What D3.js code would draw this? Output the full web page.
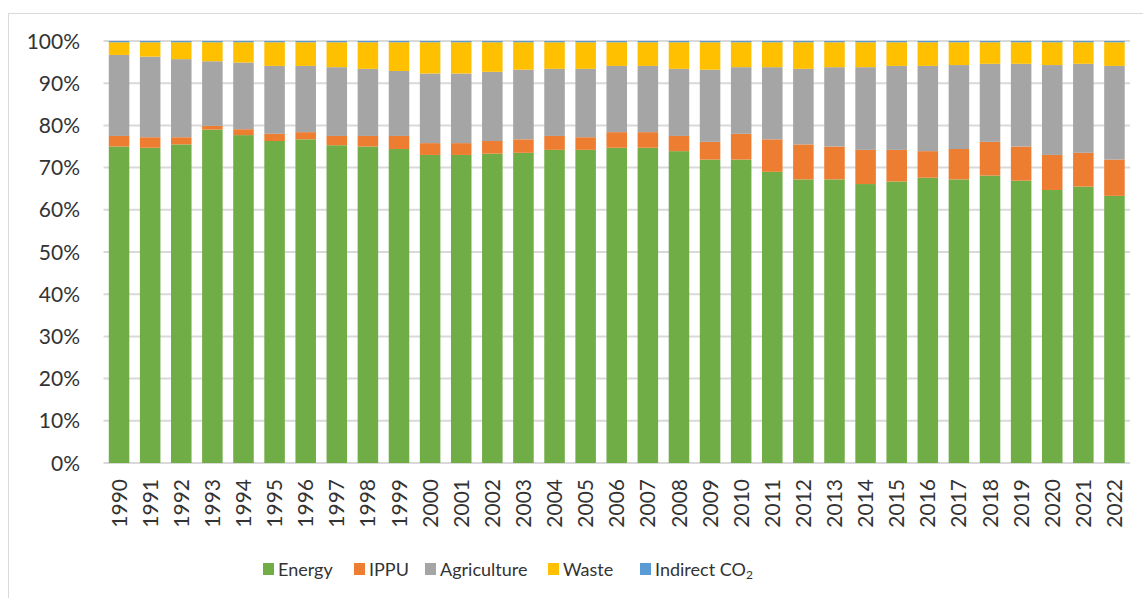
<!DOCTYPE html>
<html>
<head>
<meta charset="utf-8">
<script src="https://cdn.jsdelivr.net/npm/d3@7"></script>
<style>
  body { margin: 0; background: #fff; }
  text { font-family: Lato, "Open Sans", sans-serif; fill: #333; }
</style>
</head>
<body>
<svg id="chart" width="1143" height="598"></svg>
<script>
// GHG share by sector, % of total
const years = d3.range(1990, 2023).map(String);
const energy = [75.0, 74.7, 75.5, 79.0, 77.7, 76.3, 76.7, 75.3, 75.0, 74.4, 73.0,
  73.0, 73.3, 73.5, 74.2, 74.2, 74.7, 74.7, 73.9, 71.9, 71.9, 69.0,
  67.2, 67.2, 66.1, 66.7, 67.6, 67.2, 68.1, 66.9, 64.7, 65.5, 63.3];
const ippu = [2.5, 2.5, 1.7, 0.9, 1.4, 1.7, 1.7, 2.2, 2.5, 3.1, 2.8,
  2.8, 3.0, 3.2, 3.3, 3.0, 3.7, 3.7, 3.6, 4.2, 6.1, 7.7,
  8.3, 7.8, 8.1, 7.5, 6.3, 7.2, 8.0, 8.1, 8.3, 8.0, 8.6];
const agriculture = [19.2, 19.1, 18.5, 15.3, 15.8, 16.1, 15.7, 16.3, 15.9, 15.4, 16.5,
  16.5, 16.4, 16.5, 15.9, 16.2, 15.7, 15.7, 15.9, 17.1, 15.8, 17.1,
  17.9, 18.8, 19.6, 19.9, 20.2, 19.9, 18.5, 19.6, 21.3, 21.1, 22.2];
const waste = [3.0, 3.4, 4.0, 4.5, 4.8, 5.6, 5.6, 5.9, 6.3, 6.8, 7.4,
  7.4, 7.0, 6.5, 6.3, 6.3, 5.6, 5.6, 6.3, 6.5, 5.9, 5.9,
  6.3, 5.9, 5.9, 5.6, 5.6, 5.4, 5.1, 5.1, 5.4, 5.1, 5.6];
const indirect = years.map(() => 0.3);
const yTicks = d3.range(0, 1.01, 0.1);

const series = [
  { key: "Energy", values: energy, color: "#70AD47" },
  { key: "IPPU", values: ippu, color: "#ED7D31" },
  { key: "Agriculture", values: agriculture, color: "#A5A5A5" },
  { key: "Waste", values: waste, color: "#FFC000" },
  { key: "Indirect CO2", values: indirect, color: "#5B9BD5" },
];

const rows = years.map((y, i) => {
  const r = { year: y };
  series.forEach((s) => (r[s.key] = s.values[i]));
  return r;
});

const svg = d3.select("#chart");

// outer chart border (runs off the right and bottom)
svg.append("rect")
  .attr("x", 8.5).attr("y", 13.5)
  .attr("width", 1200).attr("height", 700)
  .attr("fill", "none").attr("stroke", "#d9d9d9");

const x = d3.scaleBand().domain(years).range([103.5, 1130])
  .paddingInner(0.34).paddingOuter(0.17);
const y = d3.scaleLinear().domain([0, 1]).range([463, 41]);

// gridlines
svg.append("g")
  .selectAll("line")
  .data(yTicks)
  .enter()
  .append("line")
  .attr("x1", 103.5).attr("x2", 1130)
  .attr("y1", (d) => y(d)).attr("y2", (d) => y(d))
  .attr("stroke", "#d9d9d9").attr("stroke-width", 2);

// y labels
svg.append("g")
  .selectAll("text")
  .data(yTicks)
  .enter()
  .append("text")
  .text((d) => Math.round(d * 100) + "%")
  .attr("x", 80).attr("y", (d) => y(d))
  .attr("dy", "0.36em")
  .attr("text-anchor", "end")
  .style("font-size", "21px");

// stacked bars
const stack = d3.stack()
  .keys(series.map((s) => s.key))
  .offset(d3.stackOffsetExpand);
const layers = stack(rows);

svg.append("g")
  .selectAll("g")
  .data(layers)
  .enter()
  .append("g")
  .attr("fill", (d, i) => series[i].color)
  .selectAll("rect")
  .data((d) => d)
  .enter()
  .append("rect")
  .attr("x", (d) => x(d.data.year))
  .attr("width", x.bandwidth())
  .attr("y", (d) => y(d[1]))
  .attr("height", (d) => y(d[0]) - y(d[1]));

// year labels, rotated
svg.append("g")
  .selectAll("text")
  .data(years)
  .enter()
  .append("text")
  .text((d) => d)
  .attr("transform", (d) => `translate(${x(d) + x.bandwidth() / 2},479) rotate(-90)`)
  .attr("dy", "0.36em")
  .attr("text-anchor", "end")
  .style("font-size", "21px");

// legend, square positions taken from the original layout
const legendX = [263, 354, 425, 548, 640];
const legend = svg.append("g");
series.forEach((s, i) => {
  const lx = legendX[i];
  legend.append("rect")
    .attr("x", lx).attr("y", 563)
    .attr("width", 11).attr("height", 12)
    .attr("fill", s.color);
  const t = legend.append("text")
    .attr("x", lx + 15).attr("y", 576)
    .style("font-size", "18px");
  if (s.key === "Indirect CO2") {
    t.text("Indirect CO");
    t.append("tspan").text("2").attr("dy", 3).style("font-size", "12px");
  } else {
    t.text(s.key);
  }
});
</script>
</body>
</html>
